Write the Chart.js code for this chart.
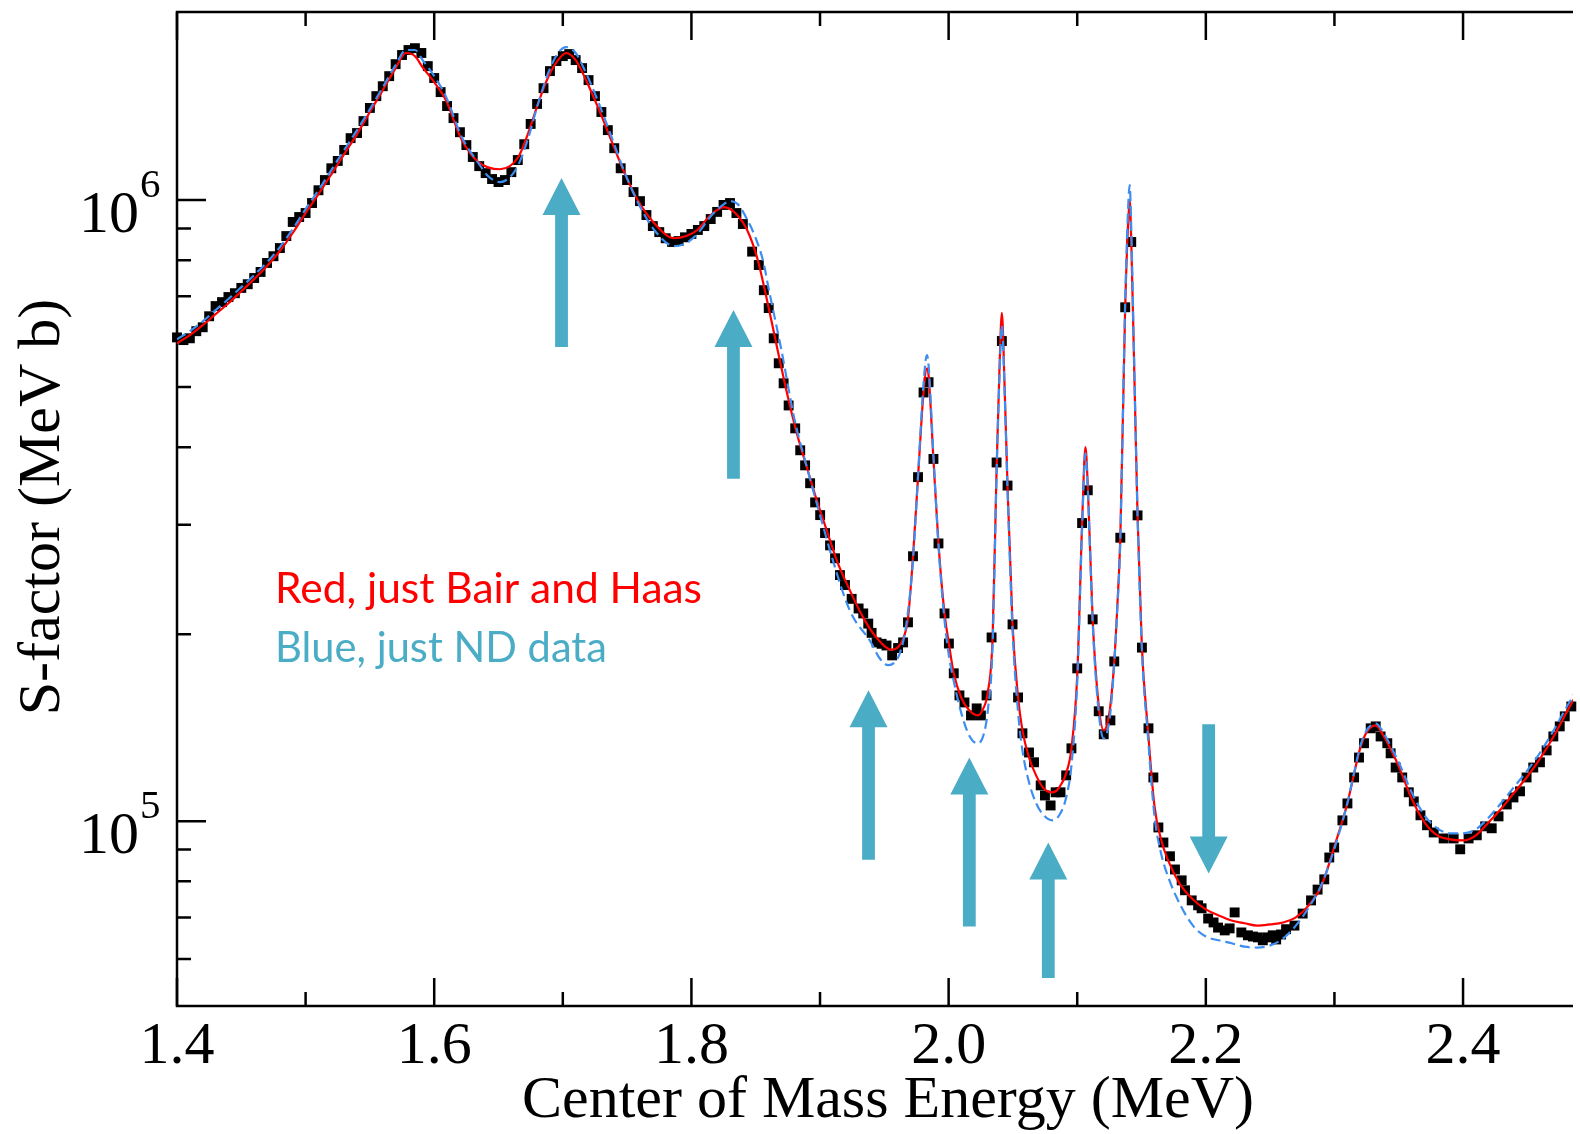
<!DOCTYPE html>
<html>
<head>
<meta charset="utf-8">
<title>S-factor vs Center of Mass Energy</title>
<script src="https://cdn.jsdelivr.net/npm/chart.js@4.4.1/dist/chart.umd.min.js"></script>
<style>
  html, body { margin: 0; padding: 0; background: #fff; overflow: hidden; }
  #wrap { width: 1580px; height: 1134px; }
</style>
</head>
<body>
<div id="wrap"><canvas id="chart" width="1580" height="1134"></canvas></div>
<script>
// Measured S-factor (black squares), energy in MeV, S in MeV b
const dataE = [
  1.400,1.405,1.410,1.415,1.420,1.425,1.430,1.435,1.440,1.445,
  1.450,1.455,1.460,1.465,1.470,1.475,1.480,1.485,1.490,1.495,
  1.500,1.505,1.510,1.515,1.520,1.525,1.530,1.535,1.540,1.545,
  1.550,1.555,1.560,1.565,1.570,1.575,1.580,1.585,1.590,1.595,
  1.600,1.605,1.610,1.615,1.620,1.625,1.630,1.635,1.640,1.645,
  1.650,1.655,1.660,1.665,1.670,1.675,1.680,1.685,1.690,1.695,
  1.700,1.705,1.710,1.715,1.720,1.725,1.730,1.735,1.740,1.745,
  1.750,1.755,1.760,1.765,1.770,1.775,1.780,1.785,1.790,1.795,
  1.800,1.805,1.810,1.815,1.820,1.825,1.830,1.835,1.840,1.8472,
  1.8524,1.8563,1.8601,1.8640,1.8679,1.8717,1.8756,1.8807,1.8846,1.8884,
  1.8923,1.8962,1.9001,1.9039,1.9078,1.9117,1.9155,1.9194,1.9246,1.9300,
  1.9336,1.9375,1.9401,1.9440,1.9479,1.9517,1.9561,1.9607,1.9646,1.9684,
  1.9723,1.9762,1.9805,1.9844,1.9882,1.9921,1.9968,2.0002,2.0040,2.0084,
  2.0123,2.0174,2.0218,2.0251,2.0295,2.0334,2.0373,2.0414,2.0458,2.0497,
  2.0540,2.0574,2.0625,2.0664,2.0716,2.0749,2.0793,2.0832,2.0870,2.0914,
  2.0955,2.1000,2.1038,2.1082,2.1120,2.1167,2.1206,2.1258,2.1288,2.1335,
  2.1373,2.1420,2.1469,2.1503,2.1554,2.1592,2.1631,2.1670,2.1721,2.1760,
  2.1812,2.1838,2.1890,2.1940,2.1967,2.2018,2.2060,2.2095,2.2147,2.2185,
  2.2224,2.2276,2.2327,2.2366,2.2405,2.2443,2.2482,2.2520,2.2547,2.2585,
  2.2624,2.2689,2.2753,2.2818,2.2869,2.2921,2.2960,2.2998,2.3062,2.3101,
  2.3153,2.3191,2.3230,2.3282,2.3321,2.3359,2.3411,2.3437,2.3476,2.3527,
  2.3578,2.3617,2.3669,2.3720,2.3772,2.3849,2.3927,2.3978,2.4043,2.4107,
  2.4172,2.4223,2.4276,2.4340,2.4392,2.4443,2.4494,2.4546,2.4598,2.4650,
  2.4702,2.4752,2.4791,2.4842
];
const dataS = [
  6.01e5,5.95e5,5.99e5,6.15e5,6.24e5,6.50e5,6.75e5,6.85e5,6.98e5,7.08e5,
  7.22e5,7.32e5,7.49e5,7.66e5,7.92e5,8.12e5,8.37e5,8.75e5,9.22e5,9.39e5,
  9.53e5,9.89e5,1.037e6,1.077e6,1.125e6,1.156e6,1.204e6,1.258e6,1.282e6,1.340e6,
  1.407e6,1.470e6,1.525e6,1.583e6,1.655e6,1.712e6,1.744e6,1.756e6,1.725e6,1.643e6,
  1.572e6,1.492e6,1.417e6,1.355e6,1.286e6,1.226e6,1.173e6,1.134e6,1.105e6,1.081e6,
  1.069e6,1.077e6,1.109e6,1.160e6,1.230e6,1.326e6,1.428e6,1.514e6,1.613e6,1.674e6,
  1.705e6,1.718e6,1.680e6,1.631e6,1.560e6,1.470e6,1.386e6,1.296e6,1.212e6,1.125e6,
  1.077e6,1.030e6,9.96e5,9.46e5,9.08e5,8.88e5,8.68e5,8.56e5,8.59e5,8.71e5,
  8.82e5,8.95e5,9.08e5,9.32e5,9.57e5,9.82e5,9.89e5,9.53e5,9.15e5,8.26e5,
  7.86e5,7.16e5,6.70e5,5.99e5,5.46e5,5.07e5,4.67e5,4.29e5,3.955e5,3.74e5,
  3.50e5,3.26e5,3.11e5,2.91e5,2.78e5,2.65e5,2.49e5,2.40e5,2.28e5,2.20e5,
  2.16e5,2.08e5,2.01e5,1.94e5,1.93e5,1.918e5,1.849e5,1.90e5,1.94e5,2.09e5,
  2.67e5,3.58e5,4.90e5,5.09e5,3.83e5,2.80e5,2.16e5,1.932e5,1.730e5,1.594e5,
  1.553e5,1.480e5,1.519e5,1.480e5,1.594e5,1.976e5,3.78e5,5.93e5,3.47e5,2.074e5,
  1.582e5,1.385e5,1.290e5,1.244e5,1.142e5,1.100e5,1.060e5,1.113e5,1.113e5,1.185e5,
  1.310e5,1.762e5,3.02e5,3.41e5,2.113e5,1.503e5,1.380e5,1.453e5,1.808e5,2.86e5,
  6.72e5,8.56e5,3.107e5,1.903e5,1.411e5,1.176e5,9.77e4,9.24e4,8.78e4,8.36e4,
  8.03e4,7.74e4,7.455e4,7.32e4,7.24e4,6.97e4,6.87e4,6.74e4,6.67e4,6.72e4,
  7.13e4,6.62e4,6.55e4,6.52e4,6.50e4,6.43e4,6.50e4,6.55e4,6.45e4,6.57e4,
  6.70e4,6.79e4,7.10e4,7.455e4,7.76e4,8.06e4,8.74e4,9.07e4,1.003e5,1.068e5,
  1.176e5,1.266e5,1.335e5,1.411e5,1.421e5,1.369e5,1.335e5,1.286e5,1.220e5,1.176e5,
  1.113e5,1.076e5,1.022e5,9.85e4,9.59e4,9.38e4,9.38e4,9.01e4,9.38e4,9.49e4,
  9.81e4,9.74e4,1.018e5,1.064e5,1.092e5,1.117e5,1.176e5,1.220e5,1.244e5,1.300e5,
  1.369e5,1.421e5,1.475e5,1.530e5
];

// Red fit: just Bair and Haas
const redE = [
  1.400,1.410,1.420,1.430,1.440,1.450,1.460,1.470,1.480,1.490,
  1.500,1.510,1.520,1.530,1.540,1.550,1.560,1.570,1.578,1.585,
  1.591,1.600,1.609,1.6215,1.6344,1.6512,1.6654,1.6731,1.6809,1.6886,
  1.6963,1.7027,1.7100,1.7170,1.7273,1.7376,1.7480,1.7582,1.7711,1.7866,
  1.7960,1.8046,1.8150,1.8253,1.8350,1.8433,1.8510,1.8588,1.8666,1.8743,
  1.8820,1.8898,1.8975,1.9052,1.9130,1.9232,1.9336,1.9439,1.9555,1.9646,
  1.9684,1.9723,1.9762,1.9805,1.9831,1.9844,1.9882,1.9921,1.9968,2.0002,
  2.0040,2.0097,2.0160,2.0226,2.0270,2.0303,2.0342,2.0373,2.0395,2.0414,
  2.0435,2.0458,2.0497,2.0540,2.0574,2.0625,2.0680,2.0740,2.0806,2.0860,
  2.0914,2.0955,2.1000,2.1038,2.1064,2.1082,2.1120,2.1167,2.1206,2.1230,
  2.1258,2.1288,2.1310,2.1335,2.1373,2.1395,2.1408,2.1420,2.1445,2.1469,
  2.1503,2.1549,2.1600,2.1650,2.1700,2.1800,2.1900,2.2000,2.2100,2.2200,
  2.2300,2.2400,2.2500,2.2600,2.2700,2.2800,2.2900,2.3000,2.3100,2.3150,
  2.3200,2.3250,2.3320,2.3380,2.3450,2.3500,2.3600,2.3700,2.3800,2.3900,
  2.4000,2.4100,2.4200,2.4300,2.4400,2.4500,2.4600,2.4700,2.4800,2.4900
];
const redS = [
  5.88e5,6.06e5,6.29e5,6.55e5,6.82e5,7.13e5,7.46e5,7.83e5,8.28e5,8.85e5,
  9.53e5,1.022e6,1.100e6,1.186e6,1.277e6,1.386e6,1.503e6,1.631e6,1.725e6,1.705e6,
  1.636e6,1.548e6,1.449e6,1.249e6,1.151e6,1.121e6,1.173e6,1.282e6,1.433e6,1.577e6,
  1.680e6,1.725e6,1.680e6,1.577e6,1.411e6,1.249e6,1.105e6,1.000e6,9.18e5,8.68e5,
  8.75e5,8.95e5,9.46e5,9.74e5,9.49e5,8.95e5,8.09e5,6.90e5,5.79e5,4.89e5,
  4.21e5,3.71e5,3.285e5,2.94e5,2.63e5,2.353e5,2.127e5,1.975e5,1.889e5,1.968e5,
  2.121e5,2.668e5,3.577e5,4.904e5,5.36e5,5.224e5,3.823e5,2.80e5,2.16e5,1.932e5,
  1.73e5,1.582e5,1.508e5,1.480e5,1.519e5,1.606e5,1.976e5,3.70e5,5.32e5,6.58e5,
  5.03e5,3.47e5,2.074e5,1.582e5,1.400e5,1.266e5,1.185e5,1.129e5,1.113e5,1.133e5,
  1.194e5,1.310e5,1.717e5,3.02e5,4.00e5,3.47e5,2.113e5,1.536e5,1.400e5,1.426e5,
  1.536e5,1.808e5,2.184e5,2.863e5,6.72e5,9.11e5,1.000e6,8.62e5,5.13e5,3.107e5,
  1.903e5,1.41e5,1.06e5,9.38e4,8.71e4,7.91e4,7.48e4,7.21e4,7.05e4,6.92e4,
  6.85e4,6.79e4,6.82e4,6.87e4,7.00e4,7.32e4,7.88e4,9.11e4,1.068e5,1.185e5,
  1.310e5,1.390e5,1.426e5,1.374e5,1.290e5,1.225e5,1.088e5,9.96e4,9.49e4,9.35e4,
  9.31e4,9.49e4,9.96e4,1.049e5,1.113e5,1.180e5,1.262e5,1.364e5,1.491e5,1.624e5
];

// Blue fit: just ND data
const blueE = [
  1.400,1.410,1.420,1.430,1.440,1.450,1.460,1.470,1.480,1.490,
  1.500,1.510,1.520,1.530,1.540,1.550,1.560,1.570,1.578,1.585,
  1.591,1.600,1.609,1.6215,1.6344,1.6420,1.6512,1.6590,1.6654,1.6731,
  1.6809,1.6886,1.6963,1.7027,1.7100,1.7170,1.7273,1.7376,1.7480,1.7582,
  1.7711,1.7866,1.7960,1.8046,1.8150,1.8253,1.8300,1.8360,1.8420,1.8500,
  1.8560,1.8600,1.8700,1.8800,1.8900,1.9000,1.9100,1.9200,1.9259,1.9387,
  1.9465,1.9530,1.9580,1.9620,1.9670,1.9723,1.9762,1.9805,1.9831,1.9844,
  1.9882,1.9921,1.9968,2.0002,2.0040,2.0097,2.0160,2.0226,2.0270,2.0303,
  2.0342,2.0373,2.0395,2.0414,2.0435,2.0458,2.0497,2.0540,2.0574,2.0625,
  2.0680,2.0740,2.0806,2.0860,2.0914,2.0955,2.1000,2.1038,2.1064,2.1082,
  2.1120,2.1167,2.1206,2.1230,2.1258,2.1288,2.1310,2.1335,2.1373,2.1395,
  2.1408,2.1420,2.1445,2.1469,2.1503,2.1549,2.1600,2.1650,2.1700,2.1800,
  2.1900,2.2000,2.2100,2.2200,2.2300,2.2400,2.2500,2.2600,2.2700,2.2800,
  2.2900,2.3000,2.3100,2.3150,2.3200,2.3250,2.3320,2.3380,2.3450,2.3500,
  2.3600,2.3700,2.3800,2.3900,2.4000,2.4100,2.4200,2.4300,2.4400,2.4500,
  2.4600,2.4700,2.4800,2.4900
];
const blueS = [
  5.97e5,6.15e5,6.38e5,6.65e5,6.93e5,7.24e5,7.57e5,7.94e5,8.40e5,8.98e5,
  9.67e5,1.037e6,1.117e6,1.204e6,1.296e6,1.401e6,1.519e6,1.649e6,1.744e6,1.744e6,
  1.680e6,1.583e6,1.470e6,1.262e6,1.147e6,1.092e6,1.069e6,1.089e6,1.139e6,1.258e6,
  1.433e6,1.601e6,1.725e6,1.763e6,1.725e6,1.619e6,1.444e6,1.268e6,1.109e6,9.93e5,
  8.95e5,8.43e5,8.53e5,8.82e5,9.42e5,9.85e5,9.96e5,9.85e5,9.42e5,8.68e5,
  7.94e5,7.21e5,5.73e5,4.45e5,3.70e5,3.11e5,2.63e5,2.267e5,2.127e5,1.954e5,
  1.828e5,1.783e5,1.802e5,1.862e5,2.067e5,2.630e5,3.60e5,5.07e5,5.63e5,5.42e5,
  3.88e5,2.78e5,2.105e5,1.849e5,1.68e5,1.497e5,1.374e5,1.334e5,1.374e5,1.497e5,
  1.918e5,3.63e5,5.17e5,6.29e5,4.94e5,3.41e5,2.028e5,1.497e5,1.300e5,1.155e5,
  1.069e5,1.022e5,1.003e5,1.022e5,1.092e5,1.230e5,1.673e5,2.97e5,3.91e5,3.43e5,
  2.09e5,1.497e5,1.359e5,1.385e5,1.497e5,1.795e5,2.168e5,2.832e5,6.90e5,9.64e5,
  1.057e6,9.02e5,5.22e5,3.107e5,1.883e5,1.374e5,1.022e5,8.91e4,8.21e4,7.34e4,
  6.79e4,6.52e4,6.43e4,6.36e4,6.28e4,6.26e4,6.31e4,6.47e4,6.79e4,7.26e4,
  7.91e4,9.04e4,1.068e5,1.189e5,1.319e5,1.400e5,1.437e5,1.390e5,1.305e5,1.244e5,
  1.113e5,1.022e5,9.74e4,9.56e4,9.56e4,9.70e4,1.014e5,1.072e5,1.137e5,1.207e5,
  1.290e5,1.395e5,1.520e5,1.650e5
];

// Axis ticks
const xMajor = [1.4, 1.6, 1.8, 2.0, 2.2, 2.4];
const xMajorLabels = ['1.4', '1.6', '1.8', '2.0', '2.2', '2.4'];
const xMinor = [1.5, 1.7, 1.9, 2.1, 2.3];
const yMajor = [1e5, 1e6];
const yMajorExp = ['5', '6'];
const yMinor = [6e4, 7e4, 8e4, 9e4, 2e5, 3e5, 4e5, 5e5, 6e5, 7e5, 8e5, 9e5];

// Arrows: energy, tail S, tip S
const arrowE = [1.699, 1.8327, 1.9377, 2.0161, 2.0775, 2.2022];
const arrowFrom = [5.80e5, 3.56e5, 8.67e4, 6.77e4, 5.59e4, 1.432e5];
const arrowTo = [1.085e6, 6.65e5, 1.624e5, 1.266e5, 9.24e4, 8.24e4];

const SERIF = '"Liberation Serif", "Times New Roman", serif';
const SANS = 'Lato, "Open Sans", sans-serif';
const TEAL = '#4BACC6';

function toPoints(xs, ys) {
    return xs.map((x, i) => ({ x: x, y: ys[i] }));
}

// Draw text squeezed or stretched to a given width
function fitText(ctx, text, x, y, width, font, color) {
    ctx.save();
    ctx.font = font;
    ctx.fillStyle = color;
    ctx.textAlign = 'left';
    ctx.textBaseline = 'alphabetic';
    const w = ctx.measureText(text).width;
    ctx.translate(x, y);
    ctx.scale(width / w, 1);
    ctx.fillText(text, 0, 0);
    ctx.restore();
}

function drawArrow(ctx, px, yFrom, yTo) {
    const dir = yTo < yFrom ? -1 : 1;
    const headLen = 37, headHalf = 19, shaftHalf = 6.4;
    const yBase = yTo - dir * headLen;
    ctx.beginPath();
    ctx.moveTo(px - shaftHalf, yFrom);
    ctx.lineTo(px - shaftHalf, yBase);
    ctx.lineTo(px - headHalf, yBase);
    ctx.lineTo(px, yTo);
    ctx.lineTo(px + headHalf, yBase);
    ctx.lineTo(px + shaftHalf, yBase);
    ctx.lineTo(px + shaftHalf, yFrom);
    ctx.closePath();
    ctx.fill();
}

// Frame, ticks, labels and arrows
const framePlugin = {
    id: 'frame',
    beforeDatasetsDraw(chart) {
        const { ctx, chartArea: a, scales: { x, y } } = chart;
        ctx.save();
        ctx.strokeStyle = '#000';
        ctx.lineWidth = 2.5;
        ctx.lineCap = 'butt';

        // axis lines (left, bottom, top; right edge is cut off)
        ctx.beginPath();
        ctx.moveTo(a.right, a.top);
        ctx.lineTo(a.left, a.top);
        ctx.lineTo(a.left, a.bottom);
        ctx.lineTo(a.right, a.bottom);
        ctx.stroke();

        // x ticks, bottom and top, pointing inwards
        ctx.beginPath();
        xMajor.forEach(v => {
            const px = x.getPixelForValue(v);
            ctx.moveTo(px, a.bottom); ctx.lineTo(px, a.bottom - 28);
            ctx.moveTo(px, a.top); ctx.lineTo(px, a.top + 28);
        });
        xMinor.forEach(v => {
            const px = x.getPixelForValue(v);
            ctx.moveTo(px, a.bottom); ctx.lineTo(px, a.bottom - 14);
            ctx.moveTo(px, a.top); ctx.lineTo(px, a.top + 14);
        });
        // y ticks on the left
        yMajor.forEach(v => {
            const py = y.getPixelForValue(v);
            ctx.moveTo(a.left, py); ctx.lineTo(a.left + 29, py);
        });
        yMinor.forEach(v => {
            const py = y.getPixelForValue(v);
            ctx.moveTo(a.left, py); ctx.lineTo(a.left + 14, py);
        });
        ctx.stroke();
        ctx.restore();
    },
    afterDatasetsDraw(chart) {
        const { ctx, scales: { x, y } } = chart;
        ctx.save();
        ctx.fillStyle = TEAL;
        arrowE.forEach((e, i) => {
            drawArrow(ctx, x.getPixelForValue(e), y.getPixelForValue(arrowFrom[i]), y.getPixelForValue(arrowTo[i]));
        });
        ctx.restore();
    },
    afterDraw(chart) {
        const { ctx, chartArea: a, scales: { x, y } } = chart;
        ctx.save();
        ctx.fillStyle = '#000';
        ctx.textBaseline = 'alphabetic';

        // x tick labels
        ctx.font = '60px ' + SERIF;
        ctx.textAlign = 'center';
        xMajor.forEach((v, i) => {
            ctx.fillText(xMajorLabels[i], x.getPixelForValue(v), a.bottom + 57);
        });

        // y tick labels: 10 with a superscript exponent
        yMajor.forEach((v, i) => {
            const py = y.getPixelForValue(v);
            ctx.font = '60px ' + SERIF;
            ctx.textAlign = 'right';
            ctx.fillText('10', a.left - 38, py + 32);
            ctx.font = '41px ' + SERIF;
            ctx.textAlign = 'left';
            ctx.fillText(yMajorExp[i], a.left - 37, py - 3);
        });

        // axis titles
        ctx.font = '60px ' + SERIF;
        ctx.textAlign = 'center';
        ctx.fillText('Center of Mass Energy (MeV)', 888, 1117);
        ctx.save();
        ctx.translate(59, 507);
        ctx.rotate(-Math.PI / 2);
        ctx.fillText('S-factor (MeV b)', 0, 0);
        ctx.restore();
        ctx.restore();

        // notes
        fitText(ctx, 'Red, just Bair and Haas', 275, 603, 427, '42px ' + SANS, '#ff0000');
        fitText(ctx, 'Blue, just ND data', 275, 662, 332, '42px ' + SANS, TEAL);
    }
};

function setupChart() {
    const ctx = document.getElementById('chart').getContext('2d');
    new Chart(ctx, {
        type: 'scatter',
        data: {
            datasets: [
                {
                    label: 'Blue, just ND data',
                    data: toPoints(blueE, blueS),
                    showLine: true,
                    borderColor: '#3d8ef0',
                    borderWidth: 2.2,
                    borderDash: [10, 5],
                    pointRadius: 0,
                    cubicInterpolationMode: 'monotone'
                },
                {
                    label: 'Red, just Bair and Haas',
                    data: toPoints(redE, redS),
                    showLine: true,
                    borderColor: '#ff0000',
                    borderWidth: 2.2,
                    pointRadius: 0,
                    cubicInterpolationMode: 'monotone'
                },
                {
                    label: 'Data',
                    data: toPoints(dataE, dataS),
                    showLine: false,
                    pointStyle: 'rect',
                    pointRadius: 7,
                    pointBorderWidth: 0,
                    pointBackgroundColor: '#000',
                    pointBorderColor: '#000',
                    clip: 8
                }
            ]
        },
        options: {
            responsive: false,
            animation: false,
            devicePixelRatio: 1,
            layout: { padding: { left: 177, top: 12, right: 0, bottom: 128 } },
            plugins: {
                legend: { display: false },
                tooltip: { enabled: false }
            },
            scales: {
                x: { type: 'linear', min: 1.4, max: 2.4855, display: false },
                y: { type: 'logarithmic', min: 5.04e4, max: 2.008e6, display: false }
            }
        },
        plugins: [framePlugin]
    });
}

Promise.all([
    document.fonts.load('60px "Liberation Serif"'),
    document.fonts.load('42px Lato')
]).then(setupChart, setupChart);
</script>
</body>
</html>
